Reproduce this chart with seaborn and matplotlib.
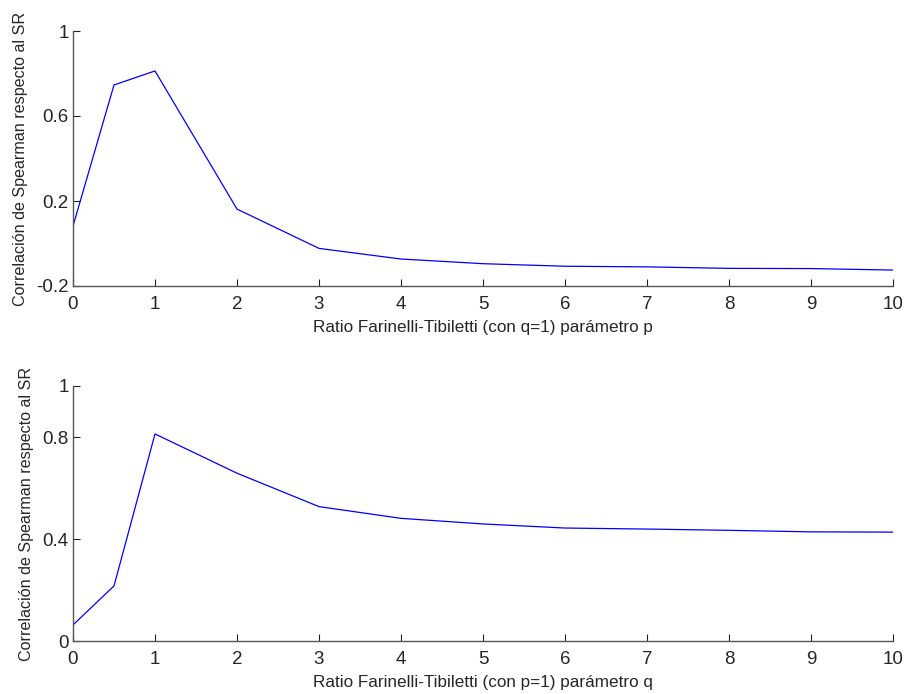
import matplotlib
matplotlib.use("Agg")
import matplotlib.pyplot as plt
import seaborn as sns
import pandas as pd

x_vals = [0, 0.5, 1, 2, 3, 4, 5, 6, 7, 8, 9, 10]
corr_p = [0.082, 0.746, 0.812, 0.162, -0.023, -0.073, -0.095, -0.107, -0.110, -0.117, -0.118, -0.125]
corr_q = [0.063, 0.216, 0.812, 0.658, 0.527, 0.481, 0.459, 0.443, 0.439, 0.434, 0.428, 0.427]

xticks = list(range(0, 11))
yticks_top = [-0.2, 0.2, 0.6, 1]
yticks_bot = [0, 0.4, 0.8, 1]
ylabel = "Correlación de Spearman respecto al SR"
xlabel_top = "Ratio Farinelli-Tibiletti (con q=1) parámetro p"
xlabel_bot = "Ratio Farinelli-Tibiletti (con p=1) parámetro q"

sns.set_style("ticks")
plt.rcParams['font.family'] = ['Liberation Sans', 'DejaVu Sans']

fig = plt.figure(figsize=(9.08, 6.94), dpi=100)
ax1 = fig.add_axes([73/908, 1-286/694, 820/908, 255/694])
ax2 = fig.add_axes([73/908, 1-641/694, 820/908, 255/694])

df1 = pd.DataFrame({"x": x_vals, "y": corr_p})
df2 = pd.DataFrame({"x": x_vals, "y": corr_q})

for ax, df, yt, ylim, xl in [
    (ax1, df1, yticks_top, (-0.2, 1), xlabel_top),
    (ax2, df2, yticks_bot, (0, 1), xlabel_bot),
]:
    sns.lineplot(data=df, x="x", y="y", ax=ax, color=(0, 0, 1), linewidth=0.9)
    ax.set_xlim(0, 10)
    ax.set_ylim(*ylim)
    ax.set_xticks(xticks)
    ax.set_yticks(yt)
    ax.set_yticklabels([f"{v:g}" for v in yt])
    ax.set_xlabel(xl, fontsize=12.3, labelpad=5)
    ax.set_ylabel(ylabel, fontsize=11.6, labelpad=6)
    ax.tick_params(direction="in", length=5, width=0.8, labelsize=13.5, color="#222222")
    ax.tick_params(axis="x", pad=7)
    ax.tick_params(axis="y", pad=3)
    for s in ["top", "right"]:
        ax.spines[s].set_visible(False)
    for s in ["left", "bottom"]:
        ax.spines[s].set_color("#555555")
        ax.spines[s].set_linewidth(1.0)

fig.savefig("out.png", dpi=100)
